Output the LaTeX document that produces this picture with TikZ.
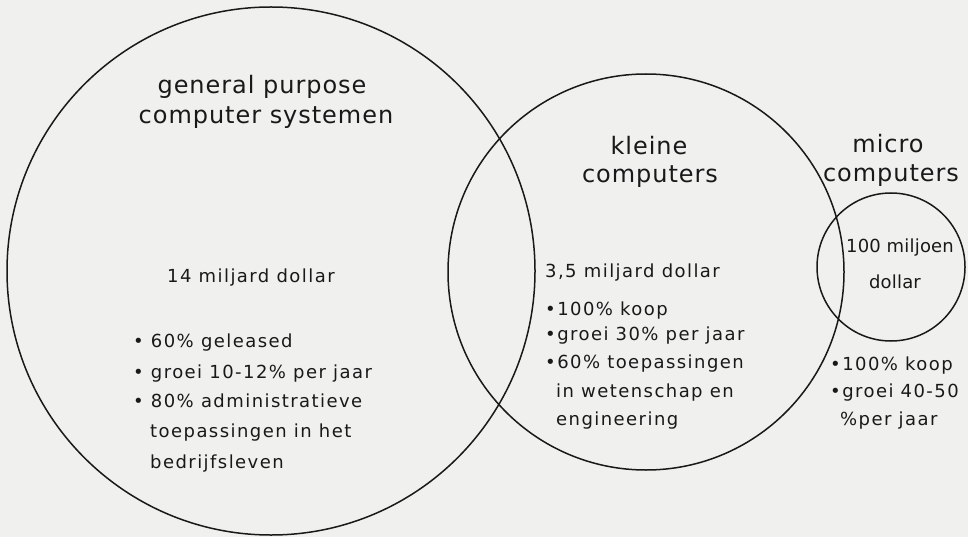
\documentclass[tikz,border=0pt]{standalone}
\usepackage{fontspec}
\setmainfont{DejaVu Sans}
\newfontfamily\headfont[LetterSpace=4]{DejaVu Sans}
\newfontfamily\bodyfont[LetterSpace=8]{DejaVu Sans}
\newfontfamily\tightfont[LetterSpace=1]{DejaVu Sans}
\definecolor{paper}{RGB}{240,240,238}
\definecolor{ink}{RGB}{25,25,25}
\begin{document}
\begin{tikzpicture}[x=1pt,y=-1pt,
  ring/.style={circle,draw=ink,line width=1.5pt,inner sep=0pt,outer sep=0pt},
  headtext/.style={anchor=base,text=ink,inner sep=0pt,font=\headfont\fontsize{24}{28}\selectfont},
  bodytext/.style={anchor=base west,text=ink,inner sep=0pt,font=\bodyfont\fontsize{18}{22}\selectfont},
  bodymid/.style={anchor=base,text=ink,inner sep=0pt,font=\tightfont\fontsize{18}{22}\selectfont}]
% sheet
\fill[paper] (0,0) rectangle (968,537);
\useasboundingbox (0,0) rectangle (968,537);

% the three markets
\node[ring,minimum size=528pt] (general) at (271,271) {};
\node[ring,minimum size=396pt] (kleine) at (646,272) {};
\node[ring,minimum size=148pt] (micro) at (891,267) {};

% general purpose computer systemen
\node[headtext] (g1) at (262,94) {general purpose};
\node[headtext] (g2) at (266,124) {computer systemen};
\node[bodytext] (g3) at (167,282) {14 miljard dollar};
\node[bodytext] (g4) at (133,347) {• 60\% geleased};
\node[bodytext] (g5) at (133,378) {• groei 10-12\% per jaar};
\node[bodytext] (g6) at (133,407) {• 80\% administratieve};
\node[bodytext] (g7) at (150,437) {toepassingen in het};
\node[bodytext] (g8) at (150,468) {bedrijfsleven};

% kleine computers
\node[headtext] (k1) at (649,155) {kleine};
\node[headtext] (k2) at (650,183) {computers};
\node[bodytext] (k3) at (545,277) {3,5 miljard dollar};
\node[bodytext] (k4) at (545,315) {•100\% koop};
\node[bodytext] (k5) at (545,340) {•groei 30\% per jaar};
\node[bodytext] (k6) at (545,368) {•60\% toepassingen};
\node[bodytext] (k7) at (556,397) {in wetenschap en};
\node[bodytext] (k8) at (556,425) {engineering};

% micro computers
\node[headtext] (m1) at (888,153) {micro};
\node[headtext] (m2) at (891,182) {computers};
\node[bodymid] (m3) at (900,252) {100 miljoen};
\node[bodymid] (m4) at (895,288) {dollar};
\node[bodytext] (m5) at (830,370) {•100\% koop};
\node[bodytext] (m6) at (830,397) {•groei 40-50};
\node[bodytext] (m7) at (840,425) {\%per jaar};
\end{tikzpicture}
\end{document}
